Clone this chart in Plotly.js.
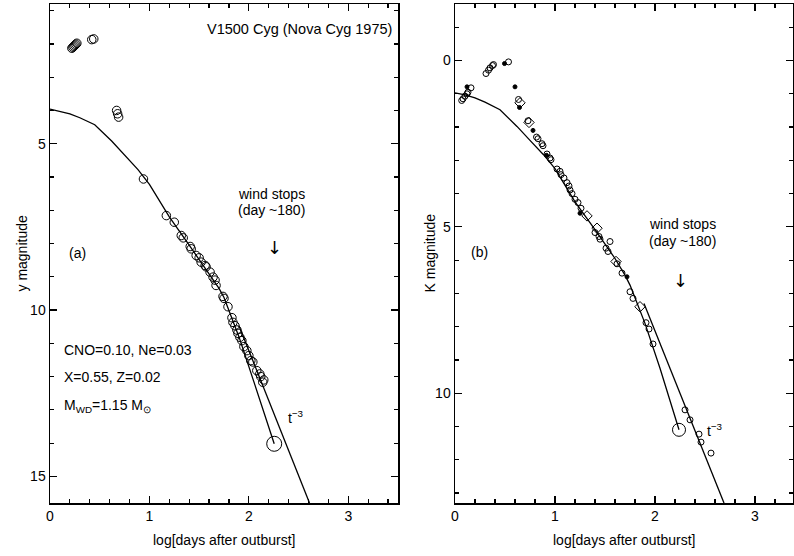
<!DOCTYPE html>
<html>
<head>
<meta charset="utf-8">
<script src="https://cdn.plot.ly/plotly-3.0.1.min.js"></script>
<style>html,body{margin:0;padding:0;background:#fff}#chart{width:794px;height:556px}</style>
</head>
<body>
<div id="chart"></div>
<script>
// ---- Panel (a): y magnitude ----
const aObsX = [0.22,0.23,0.24,0.25,0.26,0.27,0.42,0.44,0.67,0.68,0.69,0.94,1.17,1.25,1.32,1.34,1.41,1.42,1.47,1.50,1.52,1.56,1.57,1.61,1.64,1.66,1.67,1.74,1.75,1.79,1.83,1.84,1.86,1.88,1.89,1.91,1.93,1.95,1.98,2.00,2.02,2.04,2.08,2.11,2.12,2.14,2.15];
const aObsY = [2.13,2.10,2.07,2.04,2.01,1.98,1.87,1.85,4.00,4.10,4.20,6.06,7.16,7.36,7.76,7.83,8.09,8.16,8.36,8.43,8.56,8.66,8.70,8.86,9.01,9.10,9.26,9.59,9.65,9.90,10.23,10.37,10.47,10.60,10.70,10.82,10.92,11.10,11.22,11.37,11.52,11.56,11.82,11.92,12.00,12.17,12.10];
const aEndX = [2.255];
const aEndY = [14.02];
const aModelX = [0,0.1,0.2,0.3,0.45,0.62,0.75,0.885,1.0,1.2,1.4,1.6,1.7,1.75,1.9,2.05,2.255];
const aModelY = [3.96,4.02,4.10,4.22,4.43,4.92,5.33,5.78,6.22,7.20,8.05,8.90,9.35,9.62,10.80,12.15,14.02];
const aT3X = [1.90,2.61];
const aT3Y = [10.47,15.80];

// ---- Panel (b): K magnitude ----
const bOpenX = [0.067,0.08,0.10,0.12,0.13,0.16,0.31,0.335,0.35,0.375,0.385,0.535,0.635,0.73,0.815,0.83,0.87,0.88,0.92,0.95,0.96,1.02,1.05,1.06,1.09,1.12,1.14,1.15,1.17,1.20,1.23,1.26,1.40,1.44,1.45,1.55,1.51,1.53,1.62,1.67,1.75,1.78,1.91,1.94,1.98,2.30,2.35,2.44,2.46,2.56];
const bOpenY = [1.20,1.15,1.07,1.00,0.95,0.82,0.39,0.29,0.22,0.15,0.12,0.04,1.17,1.81,2.30,2.35,2.50,2.56,2.81,2.93,2.98,3.26,3.33,3.43,3.53,3.67,3.77,3.89,4.00,4.17,4.27,4.44,5.17,5.29,5.37,5.44,5.64,5.74,6.11,6.39,6.95,7.15,7.88,8.07,8.52,10.50,10.80,11.23,11.47,11.80];
const bDotX = [0.12,0.495,0.60,0.645,0.78,0.915,1.25,1.72];
const bDotY = [0.79,0.09,0.79,1.41,2.10,2.85,4.59,6.50];
const bDiaX = [0.65,0.74,1.32,1.42,1.61,1.85];
const bDiaY = [1.27,1.86,4.67,5.04,6.04,7.40];
const bEndX = [2.24];
const bEndY = [11.10];
const bModelX = [0,0.1,0.2,0.3,0.45,0.62,0.75,0.885,1.0,1.2,1.4,1.6,1.7,1.75,1.9,2.05,2.24];
const bModelY = [0.97,1.03,1.12,1.25,1.48,1.98,2.40,2.83,3.25,4.25,5.08,5.95,6.45,6.75,7.90,9.25,11.10];
const bT3X = [1.89,2.69];
const bT3Y = [7.30,13.30];

const xTitle = 'log[days after outburst]';
const K = 'black';
const FONT = 'Liberation Sans, Arial, sans-serif';

function pts(x,y,xa,ya,sym,size){
  return {x:x,y:y,xaxis:xa,yaxis:ya,type:'scatter',mode:'markers',
    marker:{symbol:sym,size:size,color:K,line:{color:K,width:1}},showlegend:false,hoverinfo:'skip'};
}
function ln(x,y,xa,ya){
  return {x:x,y:y,xaxis:xa,yaxis:ya,type:'scatter',mode:'lines',line:{color:K,width:1.3},showlegend:false,hoverinfo:'skip'};
}

const data = [
  ln(aModelX,aModelY,'x','y'),
  ln(aT3X,aT3Y,'x','y'),
  pts(aObsX,aObsY,'x','y','circle-open',8.5),
  pts(aEndX,aEndY,'x','y','circle-open',15),
  ln(bModelX,bModelY,'x2','y2'),
  ln(bT3X,bT3Y,'x2','y2'),
  pts(bOpenX,bOpenY,'x2','y2','circle-open',6),
  pts(bDotX,bDotY,'x2','y2','circle',4),
  pts(bDiaX,bDiaY,'x2','y2','diamond-open',8),
  pts(bEndX,bEndY,'x2','y2','circle-open',13)
];

function xax(dom,rng,anchor){
  return {domain:dom,range:rng,anchor:anchor,dtick:1,tick0:0,ticks:'inside',ticklen:7,tickwidth:1.2,tickcolor:K,
    minor:{dtick:0.2,tick0:0,ticks:'inside',ticklen:4,tickwidth:1.2,tickcolor:K},
    showline:true,linecolor:K,linewidth:1.5,mirror:'allticks',showgrid:false,zeroline:false,
    tickfont:{family:FONT,size:14,color:K}};
}
function yax(dom,rng,anchor){
  return {domain:dom,range:rng,anchor:anchor,dtick:5,tick0:0,ticks:'inside',ticklen:7,tickwidth:1.2,tickcolor:K,
    minor:{dtick:1,tick0:0,ticks:'inside',ticklen:4,tickwidth:1.2,tickcolor:K},
    showline:true,linecolor:K,linewidth:1.5,mirror:'allticks',showgrid:false,zeroline:false,
    tickfont:{family:FONT,size:14,color:K}};
}

const yDom = [53/556, 552/556];
function ann(text,x,y,xr,yr,xa,extra){
  return Object.assign({text:text,x:x,y:y,xref:xr,yref:yr,xanchor:xa||'center',yanchor:'middle',showarrow:false,
    font:{family:FONT,size:14,color:K}},extra||{});
}
const ARROWFONT = {family:'DejaVu Sans, sans-serif',size:18,color:K};

const layout = {
  width:794,height:556,margin:{l:0,r:0,t:0,b:0},paper_bgcolor:'#fff',plot_bgcolor:'#fff',
  font:{family:FONT,size:14,color:K},
  xaxis:xax([50/794,398/794],[0,3.5],'y'),
  yaxis:yax(yDom,[15.8,0.8],'x'),
  xaxis2:xax([455/794,793/794],[0,3.38],'y2'),
  yaxis2:yax(yDom,[13.3,-1.7],'x2'),
  annotations:[
    ann('V1500 Cyg (Nova Cyg 1975)',3.46,1.55,'x','y','right',{font:{family:FONT,size:14.5,color:K}}),
    ann('wind stops',2.23,6.5,'x','y'),
    ann('(day ~180)',2.23,6.98,'x','y'),
    ann('\u2193',2.255,8.12,'x','y','center',{font:ARROWFONT}),
    ann('(a)',0.28,8.3,'x','y'),
    ann('CNO=0.10, Ne=0.03',0.12,11.2,'x','y','left'),
    ann('X=0.55, Z=0.02',0.12,12.02,'x','y','left'),
    ann('M<sub>WD</sub>=1.15 M<sub>\u2299</sub>',0.12,12.87,'x','y','left'),
    ann('t<sup>\u22123</sup>',2.37,13.2,'x','y','left'),
    ann('wind stops',2.27,4.9,'x2','y2'),
    ann('(day ~180)',2.27,5.42,'x2','y2'),
    ann('\u2193',2.255,6.61,'x2','y2','center',{font:ARROWFONT}),
    ann('(b)',0.25,5.75,'x2','y2'),
    ann('t<sup>\u22123</sup>',2.5,11.1,'x2','y2','left'),
    ann(xTitle,224/794,16/556,'paper','paper'),
    ann(xTitle,624/794,16/556,'paper','paper'),
    ann('y magnitude',22/794,0.5*(yDom[0]+yDom[1]),'paper','paper','center',{textangle:-90}),
    ann('K magnitude',430/794,0.5*(yDom[0]+yDom[1]),'paper','paper','center',{textangle:-90})
  ]
};

Plotly.newPlot('chart',data,layout,{staticPlot:true,displayModeBar:false});
</script>
</body>
</html>
